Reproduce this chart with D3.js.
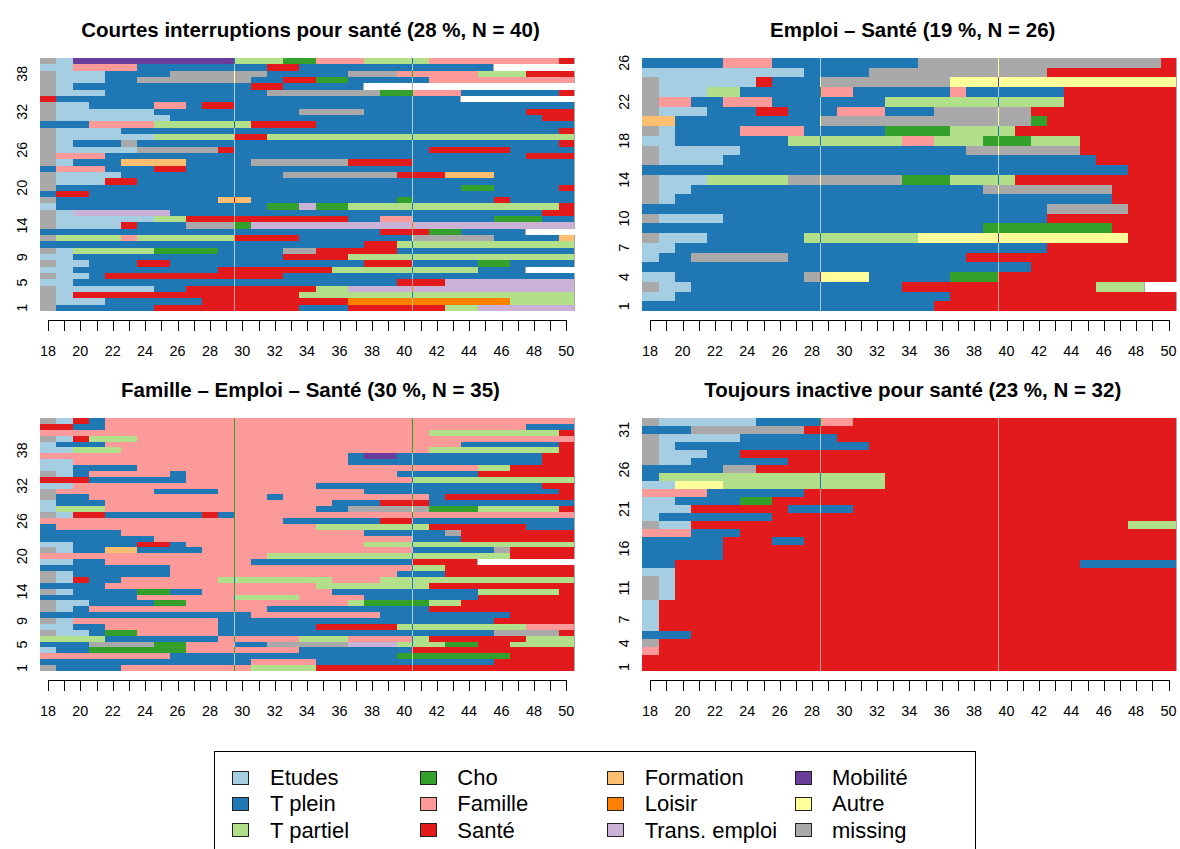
<!DOCTYPE html>
<html><head><meta charset="utf-8">
<script src="https://cdn.jsdelivr.net/npm/d3@7"></script>
<style>html,body{margin:0;padding:0;background:#fff;overflow:hidden}svg{display:block}text{font-family:"Liberation Sans",Arial,sans-serif;fill:#000}</style>
</head><body><svg id="c" width="1180" height="849"></svg>
<script>
const stateKeys=["E","P","A","C","F","S","O","L","T","M","U","X","N"];
const stateLabels=["Etudes","T plein","T partiel","Cho","Famille","Santé","Formation","Loisir","Trans. emploi","Mobilité","Autre","missing"];
const stateColors=["#A6CEE3","#1F78B4","#B2DF8A","#33A02C","#FB9A99","#E31A1C","#FDBF6F","#FF7F00","#CAB2D6","#6A3D9A","#FFFF99","#A9A9A9","#FFFFFF"];
const ages=d3.range(18,51);
const ageLabels=d3.range(18,51,2);
const rowLabelsTop=[1,5,9,14,20,26,32,38];
const rowLabelsEmploi=[1,4,7,10,14,18,22,26];
const rowLabelsInactive=[1,4,7,11,16,21,26,31];
const titles=["Courtes interruptions pour santé (28 %, N = 40)","Emploi – Santé (19 %, N = 26)","Famille – Emploi – Santé (30 %, N = 35)","Toujours inactive pour santé (23 %, N = 32)"];
// each row, top to bottom: state code + column where that state ends
const seqCourtes=[
"X1 E2 M12 A15 C17 F20 A24 F32 S33","E2 F6 P14 S16 P28 N33","X1 E4 P8 X14 P19 X22 F27 A30 S33","X1 E4 P6 X13 P15 S17 C19 P24 F33",
"X1 E2 P13 S15 P20 N33","X1 E4 P14 X21 C23 F26 P32 S33","S1 P26 N33","X1 E3 P7 F9 P10 S12 P33",
"X1 E7 P16 X20 P30 S33","X1 E8 P31 S33","P3 F7 A13 S17 P33","X1 E5 P32 S33",
"X1 E7 A12 S14 A33","X1 E2 P5 X6 P32 S33","X1 E6 X11 S12 P24 S29 P33","X1 F4 P30 S33",
"X1 E2 P5 O9 P13 X19 S23 P33","P1 F4 P7 S9 P33","X1 E5 P15 X22 S25 O28 P33","X1 E4 S6 P33",
"X1 P26 C28 P32 S33","P1 S3 P33","X1 P11 O13 P22 C23 P28 S29 P33","E1 P14 C16 T17 C19 A32 S33",
"X1 E2 T8 P31 S33","X1 E7 A9 S19 P21 F23 P28 C31 P33","X1 E5 S6 P9 X12 C13 T33","P21 S24 C26 P30 N33",
"X1 A5 F6 A12 S16 P23 X28 P32 O33","P20 S22 A33","X1 E2 A7 C11 P15 X17 S22 P33","E2 P15 S19 A33",
"X1 E3 P6 S8 P20 S23 P27 C29 P33","E2 P11 S18 A27 P30 N33","X1 E3 P4 S15 P33","E2 P22 S25 T33",
"X1 E7 P9 S17 A19 T33","X1 E2 S16 A33","X1 E4 P10 S19 L29 A33","X1 P7 S16 P19 S25 A27 T33"];
const seqEmploi=[
"P5 F8 P17 X32 S33","E10 P14 X25 S33","X1 E7 S8 P11 X19 U33","X1 E4 A6 P11 F13 P19 F20 P26 S33",
"X1 F3 P5 F8 P15 A26 S33","X1 E4 P7 S9 P12 F15 P18 X24 S33","O2 P11 X24 C25 S33","X1 E2 P6 F10 P15 C19 A23 S33",
"E2 P9 A16 F18 A21 C24 A27 S33","X1 E6 P20 X27 S33","X1 E5 P28 S33","P30 S33",
"X1 E4 A9 X16 C19 A23 S33","X1 E3 P21 X29 S33","X1 E2 P29 S33","P25 X30 S33",
"X1 E5 P25 S33","P21 C29 S33","X1 E4 P10 A17 U30 S33","E2 P25 S33",
"E1 P3 X9 P20 S33","P24 S33","E2 P10 X11 U14 P19 C22 S33","X1 E3 P16 S28 A31 N33",
"E2 P19 S33","P18 S33"];
const seqFamille=[
"X1 E2 S3 P4 F33","S2 P4 F30 P33","F24 A32 S33","X1 E2 S3 A6 F33",
"E1 P4 F26 P32 S33","E2 A5 F24 A32 S33","F19 P20 M22 P31 S33","E2 F19 P31 S33",
"E2 P6 F27 A29 S33","X1 E2 P3 F8 P9 F22 P27 S33","S3 P9 F23 A33","E2 F17 P31 S33",
"X1 F7 P11 F20 P32 S33","X1 P3 F14 P15 F24 P25 S33","E1 P4 F18 P21 S24 P33","E1 A4 F17 P19 X24 C27 A32 S33",
"X1 E2 S4 P10 S11 P12 F33","F15 P21 S23 P33","P1 F17 A24 S30 P33","P5 F20 P25 X26 S33",
"P7 F23 P26 S33","E2 P6 S8 P9 F20 A33","X1 E2 P4 O6 P10 F23 P28 X29 S33","F14 A29 S33",
"E2 P4 F13 P23 S27 N33","P8 F23 A25 S33","X1 E2 P8 F22 P25 S33","X1 E2 S3 P5 F11 A18 F21 A33",
"P4 F17 A24 S33","X1 E2 P6 C8 P10 F18 P27 A32 S33","P6 F12 A16 F20 P27 S33","X1 E3 P7 C9 F19 A20 C24 A26 S33",
"X1 E2 P3 F14 P24 S33","P13 F21 P29 S33","X1 E2 F11 P28 S33","E2 P4 F11 P17 S22 A30 F33",
"X1 E3 P4 C6 F11 P28 X32 S33","A4 P11 F16 A19 F23 A24 S30 A33","P3 X7 C9 F12 P14 X19 T22 A25 C27 S29 A33","E1 P3 C9 F16 P23 S33",
"F8 P22 C29 S33","P13 F17 P28 S33","X1 P5 F13 A17 S33"];
const seqInactive=[
"X1 E7 P11 F13 S33","P3 X10 S33","X1 E6 P12 S33","X1 E2 P14 S33",
"X1 E4 P6 S33","X1 E3 P9 S33","P5 X7 S33","P1 A15 S33",
"E2 U5 A15 S33","F4 P10 S33","E2 P6 C8 S33","E3 S9 P13 S33",
"E1 P8 S33","X1 E3 S30 A33","F3 P6 S33","P5 S8 P10 S33",
"P5 S33","P5 S33","P2 S27 P33","E2 S33",
"X1 E2 S33","X1 E2 S33","X1 E2 S33","E1 S33",
"E1 S33","E1 S33","E1 S33","P3 S33",
"X1 S33","F1 S33","S33","S33"];
const panels=[
 {seq:seqCourtes,title:titles[0],labels:rowLabelsTop,cols:[12,23],left:40.2,top:58},
 {seq:seqEmploi,title:titles[1],labels:rowLabelsEmploi,cols:[11,22],left:642.4,top:58},
 {seq:seqFamille,title:titles[2],labels:rowLabelsTop,cols:[12,23],left:40.2,top:418},
 {seq:seqInactive,title:titles[3],labels:rowLabelsInactive,cols:[11,22],left:642.4,top:418}
];
const colour=d3.scaleOrdinal(stateKeys,stateColors);
const previous=k=>stateColors[(stateKeys.indexOf(k)+stateKeys.length-1)%stateKeys.length];
const parse=s=>{let st=0;return s.split(" ").map(t=>{const r={s:t[0],a:st,b:+t.slice(1)};st=r.b;return r;});};
const svg=d3.select("#c");
panels.forEach(p=>{
 const rows=p.seq.map(parse), n=rows.length;
 const pw=534.6, ph=253;
 const x=d3.scaleLinear([0,33],[p.left,p.left+pw]);
 const y=d3.scaleLinear([0,n],[p.top,p.top+ph]);
 const g=svg.append("g").attr("shape-rendering","crispEdges");
 rows.forEach((runs,i)=>{
  const y0=Math.round(y(i)), y1=Math.round(y(i+1));
  g.selectAll(null).data(runs).join("rect")
   .attr("x",d=>Math.round(x(d.a))).attr("y",y0)
   .attr("width",d=>Math.round(x(d.b))-Math.round(x(d.a))).attr("height",y1-y0)
   .attr("fill",d=>colour(d.s));
  // one pixel marks at the two reference ages, the right edge and the start of missing tails
  const marks=p.cols.map(c=>({c,s:runs.find(r=>r.a<=c&&c<r.b).s}));
  runs.filter(r=>r.s==="N").forEach(r=>marks.push({c:r.a,s:"N"}));
  if(runs[runs.length-1].s!=="N") marks.push({c:33,s:"N"});
  g.selectAll(null).data(marks).join("rect")
   .attr("x",d=>Math.round(x(d.c))-1).attr("y",y0).attr("width",1).attr("height",y1-y0)
   .attr("fill",d=>previous(d.s));
 });
 // x axis
 const tx=d3.scaleLinear([18,50],[x(0.5)-0.4,x(32.5)-0.4]);
 const axisY=p.top+262;
 const a=svg.append("g").attr("transform",`translate(0,${axisY})`);
 a.append("g").attr("shape-rendering","crispEdges").call(g2=>{
  g2.append("line").attr("x1",tx(18)).attr("x2",tx(50)).attr("stroke","#000");
  g2.selectAll(null).data(ages).join("line").attr("x1",d=>Math.round(tx(d))).attr("x2",d=>Math.round(tx(d))).attr("y1",0).attr("y2",11).attr("stroke","#000");
 });
 a.selectAll(null).data(ageLabels).join("text").attr("x",d=>tx(d)).attr("y",36).attr("text-anchor","middle").attr("font-size",14.4).text(d=>d);
 // y labels
 svg.selectAll(null).data(p.labels).join("text")
  .attr("transform",d=>`translate(${p.left-13},${y(n-d+0.5)}) rotate(-90)`)
  .attr("text-anchor","middle").attr("font-size",14.4).text(d=>d);
 // title
 svg.append("text").attr("x",p.left+pw/2+3).attr("y",p.top-21).attr("text-anchor","middle").attr("font-size",20.5).attr("font-weight","bold").text(p.title);
});
// legend
const leg=svg.append("g");
leg.append("rect").attr("x",214.5).attr("y",751.5).attr("width",761).attr("height",120).attr("fill","none").attr("stroke","#000").attr("shape-rendering","crispEdges");
const legX=d3.scaleLinear([0,3],[232.5,795.5]);
const legText=d3.scaleLinear([0,3],[270,832]);
const legY=d3.scaleLinear([0,2],[777.5,830]);
stateLabels.forEach((l,i)=>{
 const c=Math.floor(i/3), r=i%3;
 leg.append("rect").attr("x",legX(c)).attr("y",legY(r)-6.5).attr("width",16).attr("height",13).attr("fill",stateColors[i]).attr("stroke","#222").attr("shape-rendering","crispEdges");
 leg.append("text").attr("x",legText(c)).attr("y",legY(r)+7.5).attr("font-size",22).text(l);
});
</script></body></html>
